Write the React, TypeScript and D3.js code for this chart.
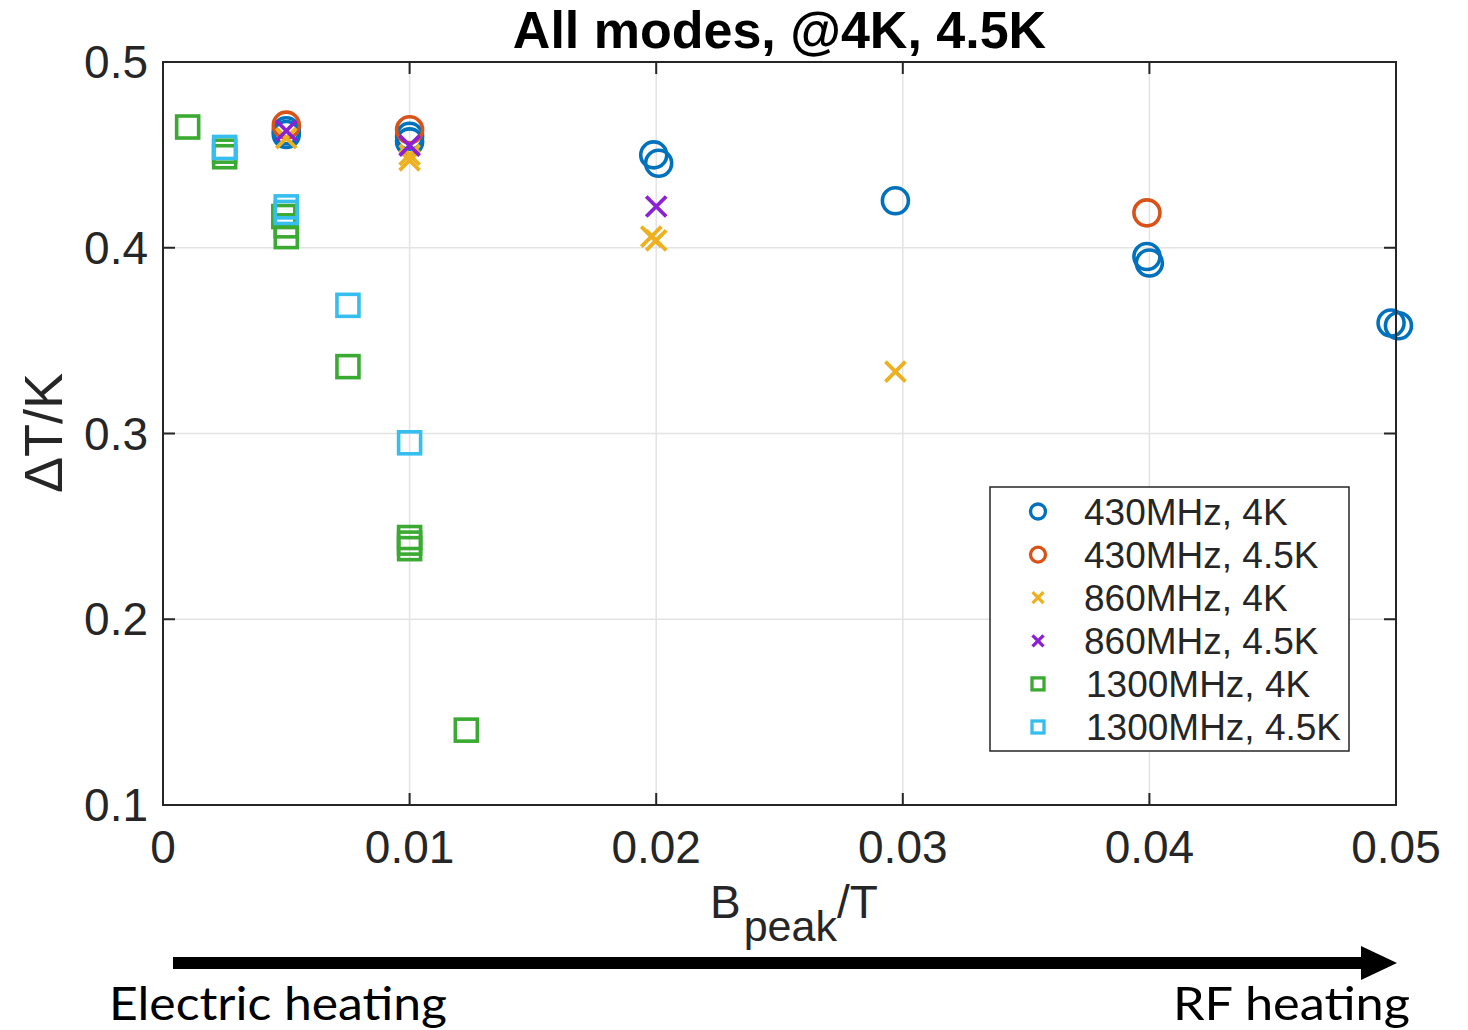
import React from "react";
import * as d3 from "d3";

const seriesNames = ["430MHz, 4K", "430MHz, 4.5K", "860MHz, 4K", "860MHz, 4.5K", "1300MHz, 4K", "1300MHz, 4.5K"];
const seriesColors = ["#0072BD", "#D95319", "#EDB120", "#8B20D4", "#3BAA32", "#36BEEE"];
const seriesMarkers = ["circle", "circle", "x", "x", "square", "square"];

const x430_4K = [0.005, 0.005, 0.01, 0.01, 0.0199, 0.0201, 0.0297, 0.0399, 0.04, 0.0498, 0.0501];
const y430_4K = [0.463, 0.461, 0.46, 0.457, 0.45, 0.4455, 0.4253, 0.3953, 0.3918, 0.3595, 0.358];
const x430_45K = [0.005, 0.01, 0.0399];
const y430_45K = [0.466, 0.4635, 0.4188];
const x860_4K = [0.005, 0.01, 0.01, 0.0198, 0.02, 0.0297];
const y860_4K = [0.459, 0.45, 0.447, 0.406, 0.404, 0.3333];
const x860_45K = [0.005, 0.01, 0.02];
const y860_45K = [0.463, 0.455, 0.4222];
const x1300_4K = [0.001, 0.0025, 0.0025, 0.0049, 0.005, 0.005, 0.0075, 0.01, 0.01, 0.01, 0.0123];
const y1300_4K = [0.465, 0.449, 0.452, 0.4168, 0.4118, 0.406, 0.336, 0.244, 0.241, 0.238, 0.1403];
const x1300_45K = [0.0025, 0.005, 0.005, 0.0075, 0.01];
const y1300_45K = [0.454, 0.422, 0.419, 0.369, 0.295];

const seriesX = [x430_4K, x430_45K, x860_4K, x860_45K, x1300_4K, x1300_45K];
const seriesY = [y430_4K, y430_45K, y860_4K, y860_45K, y1300_4K, y1300_45K];

const xTicks = [0, 0.01, 0.02, 0.03, 0.04, 0.05];
const xTickLabels = ["0", "0.01", "0.02", "0.03", "0.04", "0.05"];
const yTicks = [0.1, 0.2, 0.3, 0.4, 0.5];
const yTickLabels = ["0.1", "0.2", "0.3", "0.4", "0.5"];

const AX = "#262626";
const FONT = "'Liberation Sans', Arial, Helvetica, sans-serif";

function Marker({ kind, cx, cy, color, size, sw }: { kind: string; cx: number; cy: number; color: string; size: number; sw: number }) {
  if (kind === "circle") return <circle cx={cx} cy={cy} r={size} fill="none" stroke={color} strokeWidth={sw} />;
  if (kind === "square")
    return <rect x={cx - size} y={cy - size} width={size * 2} height={size * 2} fill="none" stroke={color} strokeWidth={sw} />;
  return (
    <path
      d={`M${cx - size},${cy - size}L${cx + size},${cy + size}M${cx - size},${cy + size}L${cx + size},${cy - size}`}
      stroke={color}
      strokeWidth={sw}
      fill="none"
    />
  );
}

export default function App() {
  const left = 163, right = 1396, top = 62, bottom = 805;
  const x = d3.scaleLinear().domain([0, 0.05]).range([left, right]);
  const y = d3.scaleLinear().domain([0.1, 0.5]).range([bottom, top]);
  const tickLen = 12;
  const legX = 990, legY = 487, legW = 359, legH = 264;
  const legRow = 43.1;

  return (
    <svg width={1468} height={1030} style={{ position: "absolute", left: 0, top: 0, background: "#fff" }}>
      <rect x={0} y={0} width={1468} height={1030} fill="#fff" />
      {/* grid */}
      {xTicks.slice(1, -1).map((t) => (
        <line key={"gx" + t} x1={x(t)} x2={x(t)} y1={top} y2={bottom} stroke="#e3e3e3" strokeWidth={1.5} />
      ))}
      {yTicks.slice(1, -1).map((t) => (
        <line key={"gy" + t} x1={left} x2={right} y1={y(t)} y2={y(t)} stroke="#e3e3e3" strokeWidth={1.5} />
      ))}
      {/* ticks */}
      {xTicks.map((t) => (
        <g key={"tx" + t}>
          <line x1={x(t)} x2={x(t)} y1={bottom} y2={bottom - tickLen} stroke={AX} strokeWidth={2} />
          <line x1={x(t)} x2={x(t)} y1={top} y2={top + tickLen} stroke={AX} strokeWidth={2} />
        </g>
      ))}
      {yTicks.map((t) => (
        <g key={"ty" + t}>
          <line x1={left} x2={left + tickLen} y1={y(t)} y2={y(t)} stroke={AX} strokeWidth={2} />
          <line x1={right} x2={right - tickLen} y1={y(t)} y2={y(t)} stroke={AX} strokeWidth={2} />
        </g>
      ))}
      {/* data */}
      {seriesX.map((xs, si) =>
        xs.map((xv, i) => (
          <Marker
            key={`m${si}-${i}`}
            kind={seriesMarkers[si]}
            cx={x(xv)}
            cy={y(seriesY[si][i])}
            color={seriesColors[si]}
            size={seriesMarkers[si] === "circle" ? 13 : seriesMarkers[si] === "square" ? 11 : 10}
            sw={seriesMarkers[si] === "x" ? 3.8 : 3.6}
          />
        ))
      )}
      {/* box */}
      <rect x={left} y={top} width={right - left} height={bottom - top} fill="none" stroke={AX} strokeWidth={2} />
      {/* tick labels */}
      {xTicks.map((t, i) => (
        <text key={"lx" + t} x={x(t)} y={863} textAnchor="middle" fontFamily={FONT} fontSize={46} fill={AX}>
          {xTickLabels[i]}
        </text>
      ))}
      {yTicks.map((t, i) => (
        <text key={"ly" + t} x={148} y={y(t) + 16} textAnchor="end" fontFamily={FONT} fontSize={46} fill={AX}>
          {yTickLabels[i]}
        </text>
      ))}
      {/* title */}
      <text x={(left + right) / 2} y={48} textAnchor="middle" fontFamily={FONT} fontSize={52} fontWeight="bold" fill="#000">
        All modes, @4K, 4.5K
      </text>
      {/* y label */}
      <text
        transform={`translate(62,${433}) rotate(-90)`}
        textAnchor="middle"
        fontFamily={FONT}
        fontSize={54}
        fill={AX}
      >
        ΔT/K
      </text>
      {/* x label */}
      <text x={710} y={918} fontFamily={FONT} fontSize={46} fill={AX}>
        B
        <tspan fontSize={43} dx={3} dy={23}>peak</tspan>
        <tspan fontSize={46} dy={-23}>/T</tspan>
      </text>
      {/* legend */}
      <rect x={legX} y={legY} width={legW} height={legH} fill="#fff" stroke={AX} strokeWidth={1.5} />
      {seriesNames.map((name, i) => {
        const cy = legY + 24.5 + i * legRow;
        return (
          <g key={"leg" + i}>
            <Marker
              kind={seriesMarkers[i]}
              cx={1038}
              cy={cy}
              color={seriesColors[i]}
              size={seriesMarkers[i] === "circle" ? 7.5 : seriesMarkers[i] === "square" ? 6 : 5.5}
              sw={3.3}
            />
            <text x={i >= 4 ? 1086 : 1084} y={cy + 13} fontFamily={FONT} fontSize={37} fill={AX}>
              {name}
            </text>
          </g>
        );
      })}
      {/* arrow */}
      <rect x={173} y={957} width={1362 - 173} height={12} fill="#000" />
      <path d="M1361,946L1397,963L1361,980Z" fill="#000" />
      <text x={109} y={1020} fontFamily="Lato, 'Open Sans', sans-serif" fontSize={46} textLength={338} lengthAdjust="spacingAndGlyphs" fill="#000">
        Electric heating
      </text>
      <text x={1173} y={1020} fontFamily="Lato, 'Open Sans', sans-serif" fontSize={46} textLength={237} lengthAdjust="spacingAndGlyphs" fill="#000">
        RF heating
      </text>
    </svg>
  );
}
